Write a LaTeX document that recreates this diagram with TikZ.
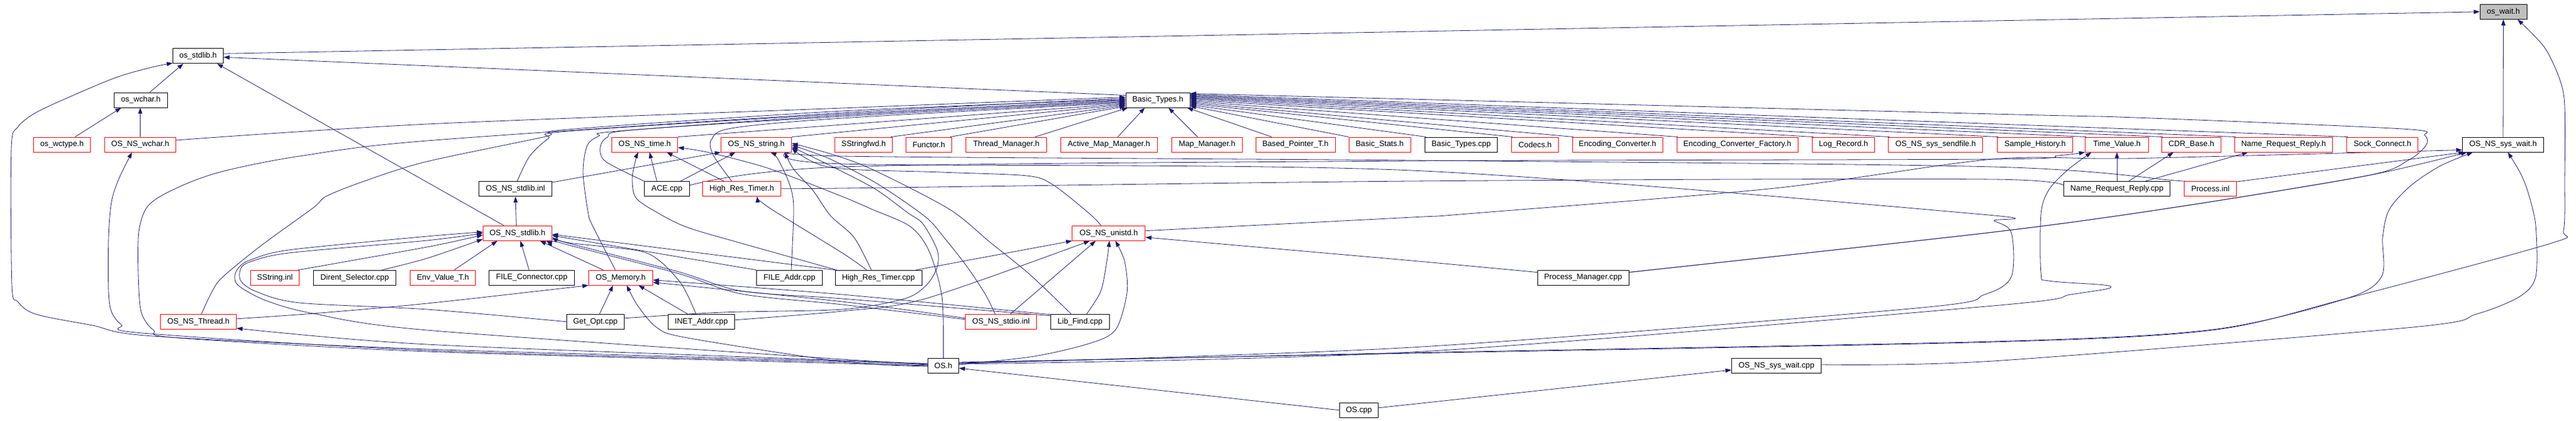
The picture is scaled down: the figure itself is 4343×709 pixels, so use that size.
\documentclass[tikz,border=0pt]{standalone}
\usepackage{fontspec}
\setmainfont{Liberation Sans}
\usetikzlibrary{arrows.meta}
\pgfdeclarelayer{bg}
\pgfsetlayers{bg,main}
\definecolor{edgec}{HTML}{191970}
\newcommand{\dxfont}{\fontsize{13.2pt}{15pt}\selectfont}
\tikzset{
 nd/.style={draw=black, line width=0.9pt, fill=white, minimum height=25pt, inner sep=0pt, font=\dxfont},
 rd/.style={nd, draw=red},
 gd/.style={nd, fill=black!25},
 ln/.style={draw=edgec, line width=0.8pt, -{Triangle[length=10pt,width=7pt]}},
 plainln/.style={draw=edgec, line width=0.8pt},
}
\begin{document}
\begin{tikzpicture}[x=1pt,y=-1pt]
\useasboundingbox (0,0) rectangle (4343,709);
% ---------------- nodes ----------------
\node[gd, minimum width=79] (w0) at (4220.5,19.8) {os\_wait.h};
\node[nd, minimum width=85] (s1) at (334,94.3) {os\_stdlib.h};
\node[nd, minimum width=108] (bt) at (1952,168.5) {Basic\_Types.h};
\node[nd, minimum width=90] (wc) at (237.4,168.5) {os\_wchar.h};
% row 3
\node[rd, minimum width=96] (wct) at (104.5,243.5) {os\_wctype.h};
\node[rd, minimum width=120] (nswc) at (236.5,243.5) {OS\_NS\_wchar.h};
\node[rd, minimum width=111] (nstime) at (1087,243.5) {OS\_NS\_time.h};
\node[rd, minimum width=119] (nsstr) at (1275,243.5) {OS\_NS\_string.h};
\node[rd, minimum width=97] (ssf) at (1456,243.5) {SStringfwd.h};
\node[rd, minimum width=77] (fun) at (1566,243.5) {Functor.h};
\node[rd, minimum width=136] (thm) at (1696.6,243.5) {Thread\_Manager.h};
\node[rd, minimum width=163] (amm) at (1869.5,243.5) {Active\_Map\_Manager.h};
\node[rd, minimum width=119] (mm) at (2035,243.5) {Map\_Manager.h};
\node[rd, minimum width=134] (bpt) at (2184,243.5) {Based\_Pointer\_T.h};
\node[rd, minimum width=104] (bs) at (2326,243.5) {Basic\_Stats.h};
\node[nd, minimum width=122] (btc) at (2463.5,243.5) {Basic\_Types.cpp};
\node[rd, minimum width=79] (cod) at (2588,243.5) {Codecs.h};
\node[rd, minimum width=152] (ec) at (2727,243.5) {Encoding\_Converter.h};
\node[rd, minimum width=204] (ecf) at (2929,243.5) {Encoding\_Converter\_Factory.h};
\node[rd, minimum width=105] (lr) at (3108,243.5) {Log\_Record.h};
\node[rd, minimum width=159] (ssfile) at (3263.4,243.5) {OS\_NS\_sys\_sendfile.h};
\node[rd, minimum width=127] (sh) at (3431,243.5) {Sample\_History.h};
\node[rd, minimum width=107] (tv) at (3569,243.5) {Time\_Value.h};
\node[rd, minimum width=100] (cdr) at (3694.5,243.5) {CDR\_Base.h};
\node[rd, minimum width=165] (nrr) at (3850,243.5) {Name\_Request\_Reply.h};
\node[rd, minimum width=120] (sc) at (4016.8,243.5) {Sock\_Connect.h};
\node[nd, minimum width=137] (nssw) at (4220,243.5) {OS\_NS\_sys\_wait.h};
% row 4
\node[nd, minimum width=123] (nsstdinl) at (869,318) {OS\_NS\_stdlib.inl};
\node[nd, minimum width=76] (ace) at (1124.5,318) {ACE.cpp};
\node[rd, minimum width=132] (hrth) at (1250.5,318) {High\_Res\_Timer.h};
\node[nd, minimum width=179] (nrrc) at (3569,318) {Name\_Request\_Reply.cpp};
\node[rd, minimum width=88] (pinl) at (3726.5,318) {Process.inl};
% row 5
\node[rd, minimum width=116] (nsstd) at (872.4,392.7) {OS\_NS\_stdlib.h};
\node[rd, minimum width=123] (nsun) at (1869.3,392.7) {OS\_NS\_unistd.h};
% row 6
\node[rd, minimum width=82] (ssinl) at (463.5,467.6) {SString.inl};
\node[nd, minimum width=139] (dir) at (598,467.6) {Dirent\_Selector.cpp};
\node[rd, minimum width=110] (env) at (746.8,467.6) {Env\_Value\_T.h};
\node[nd, minimum width=144] (fcon) at (896.5,467.6) {FILE\_Connector.cpp};
\node[rd, minimum width=108] (mem) at (1046.5,467.6) {OS\_Memory.h};
\node[nd, minimum width=111] (faddr) at (1331,467.6) {FILE\_Addr.cpp};
\node[nd, minimum width=146] (hrtc) at (1481,467.6) {High\_Res\_Timer.cpp};
\node[nd, minimum width=154] (pm) at (2669,467.6) {Process\_Manager.cpp};
% row 7
\node[rd, minimum width=128] (thr) at (334.5,541.8) {OS\_NS\_Thread.h};
\node[nd, minimum width=97] (gopt) at (1003.8,541.8) {Get\_Opt.cpp};
\node[nd, minimum width=112] (inet) at (1182.4,541.8) {INET\_Addr.cpp};
\node[rd, minimum width=120] (stdio) at (1687.5,541.8) {OS\_NS\_stdio.inl};
\node[nd, minimum width=99] (lib) at (1821,541.8) {Lib\_Find.cpp};
% row 8, 9
\node[nd, minimum width=52] (os) at (1590.4,616) {OS.h};
\node[nd, minimum width=151] (nsswc) at (2995,616) {OS\_NS\_sys\_wait.cpp};
\node[nd, minimum width=65] (oscpp) at (2291,690.8) {OS.cpp};
% ---------------- edges ----------------
\begin{pgfonlayer}{bg}
\fill[white] (0,0) rectangle (4343,709);
% into os_wait.h
\draw[ln] ([yshift=4pt]s1.east) -- (w0.west);
\draw[ln] (nssw.north) -- (w0.south);
\draw[ln] plot[smooth,tension=.5] coordinates {([yshift=6pt]os.east) (2380,595) (3360,576) (3730,556) (3955,503) (4300,410) (4322,388) (4324,300) (4324,180) (4316,135) (4290,80) ([xshift=24pt]w0.south)};
% into os_stdlib.h
\draw[ln] ([yshift=8pt]bt.west) -- ([yshift=-2pt]s1.east);
\draw[ln] ([xshift=15pt]wc.north) -- ([xshift=-25pt]s1.south);
\draw[ln] plot[smooth,tension=.5] coordinates {([yshift=3pt]os.west) (1420,608) (720,588) (257,566) (156,548) (60,529) (30,508) (20,480) (19,250) (30,214) (60,190) (120,162) (197,130) (257,113) ([yshift=1pt]s1.south west)};
\draw[ln] ([xshift=-23pt]nsstd.north) -- ([xshift=32pt]s1.south);
% into os_wchar.h
\draw[ln] (nswc.north) -- ([xshift=-1pt]wc.south);
\draw[ln] ([xshift=22pt]wct.north) -- ([xshift=-33pt]wc.south);
% OS.h to left-side nodes
\draw[ln] plot[smooth,tension=.5] coordinates {([yshift=1pt]os.west) (1420,610) (720,590) (240,561) (205,547) (188,525) (183,490) (183,400) (188,340) (200,302) ([xshift=-14pt]nswc.south)};
\draw[ln] plot[smooth,tension=.5] coordinates {([yshift=2pt]os.west) (1420,607) (720,580) ([yshift=-11pt]thr.east)};
\draw[ln] plot[smooth,tension=.5] coordinates {([yshift=4pt]os.west) (1420,605) (720,556) (528,528) (448,506) (402,481) (396,463) (405,448) (422,438) (487,421) (720,398) ([yshift=2pt]nsstd.west)};
\draw[ln] plot[smooth,tension=.5] coordinates {([yshift=-1pt]os.west) (1420,609) (1159,569) (1108,552) (1076,516) ([xshift=10pt]mem.south)};
% into Basic_Types.h from the left
\draw[ln] plot[smooth,tension=.5] coordinates {([yshift=7.5pt]nswc.east) (720,209) (1420,182) ([yshift=5pt]bt.west)};
\draw[ln] plot[smooth,tension=.5] coordinates {([yshift=0pt]os.west) (1420,612) (720,592) (300,569) (259,556) (238,525) (233,460) (234,390) (247,350) (275,328) (330,303) (390,285) (505,263) (720,237) (1420,190) ([yshift=3pt]bt.west)};
\draw[ln] plot[smooth,tension=.5] coordinates {([xshift=5pt]thr.north) (358,490) (376,466) (441,413) (528,350) (551,330) (620,303) (720,272) (920,230) (957,218) (1420,187) ([yshift=1pt]bt.west)};
\draw[ln] plot[smooth,tension=.5] coordinates {([xshift=3pt]nsstdinl.north) (893,263) (925,233) (957,221) (1420,192) (bt.west)};
\draw[ln] plot[smooth,tension=.5] coordinates {([xshift=-9pt]mem.north) (998,378) (991,355) (983,290) (990,245) (1010,229) (1040,221) (1420,194) ([yshift=-1.5pt]bt.west)};
\draw[ln] plot[smooth,tension=.5] coordinates {(ace.north west) (1021,272) (1012,248) (1024,231) (1065,219) (1420,196) ([yshift=-3pt]bt.west)};
\draw[ln] plot[smooth,tension=.5] coordinates {([xshift=-17pt]hrth.north) (1203,262) (1199,236) (1233,216) (1420,199) ([yshift=-4.5pt]bt.west)};
\draw[ln] (nstime.north east) -- ([yshift=-6pt]bt.west);
\draw[ln] (nsstr.north east) -- ([yshift=-7.5pt]bt.west);
\draw[ln] ([xshift=-3pt]ssf.north east) -- ([yshift=-9pt]bt.west);
\draw[ln] ([xshift=-3pt]fun.north east) -- ([yshift=-10.5pt]bt.west);
\draw[ln] ([xshift=-20pt]thm.north east) -- ([xshift=4pt]bt.south west);
\draw[ln] ([xshift=15pt]amm.north) -- ([xshift=-22pt]bt.south);
\draw[ln] ([xshift=-16pt]mm.north) -- ([xshift=18pt]bt.south);
\draw[ln] ([xshift=-40pt]bpt.north) -- ([xshift=-5pt]bt.south east);
% into Basic_Types.h from the right
\draw[ln] (bs.north west) -- ([yshift=-10pt]bt.east);
\draw[ln] ([xshift=2pt]btc.north west) -- ([yshift=-8pt]bt.east);
\draw[ln] ([xshift=2pt]cod.north west) -- ([yshift=-6pt]bt.east);
\draw[ln] ([xshift=2pt]ec.north west) -- ([yshift=-4pt]bt.east);
\draw[ln] ([xshift=2pt]ecf.north west) -- ([yshift=-2pt]bt.east);
\draw[ln] ([xshift=2pt]lr.north west) -- (bt.east);
\draw[ln] ([xshift=2pt]ssfile.north west) -- ([yshift=2pt]bt.east);
\draw[ln] ([xshift=2pt]sh.north west) -- ([yshift=3.5pt]bt.east);
\draw[ln] ([xshift=2pt]tv.north west) -- ([yshift=5pt]bt.east);
\draw[ln] ([xshift=2pt]cdr.north west) -- ([yshift=6.5pt]bt.east);
\draw[ln] ([xshift=2pt]nrr.north west) -- ([yshift=8pt]bt.east);
\draw[ln] ([xshift=2pt]sc.north west) -- ([yshift=9.5pt]bt.east);
\draw[ln] plot[smooth,tension=.5] coordinates {([yshift=9pt]pm.east) (3360,391) (3661,350) (3990,296) (4060,270) (4090,245) (4088,228) (4050,217) (3600,198) (3360,192) ([yshift=11pt]bt.east)};
% into OS_NS_string.h
\draw[ln] ([yshift=11pt]nsstdinl.east) -- (nsstr.south west);
\draw[ln] ([xshift=23pt]ace.north) -- ([xshift=-35pt]nsstr.south);
\draw[ln] plot[smooth,tension=.5] coordinates {([xshift=3pt]faddr.north) (1338,350) (1331,310) (1311,267) ([xshift=24pt]nsstr.south)};
\draw[ln] plot[smooth,tension=.5] coordinates {([xshift=-12pt]hrtc.north) (1440,400) (1400,363) (1370,320) (1338,285) ([xshift=48pt]nsstr.south)};
\draw[ln] plot[smooth,tension=.5] coordinates {([yshift=6pt]gopt.east) (1218,526) (1420,521) (1525,503) (1562,480) (1580,450) (1580,421) (1556,377) (1530,358) (1475,318) (1400,279) ([yshift=-4pt]nsstr.east)};
\draw[ln] plot[smooth,tension=.5] coordinates {([xshift=-10pt]stdio.north) (1662,497) (1631,450) (1590,398) (1560,365) (1480,310) (1400,268) ([yshift=-1pt]nsstr.east)};
\draw[ln] plot[smooth,tension=.5] coordinates {([xshift=-15pt]lib.north) (1737,463) (1668,407) (1600,352) (1470,285) (1400,259) ([yshift=2pt]nsstr.east)};
\draw[ln] plot[smooth,tension=.5] coordinates {([xshift=-13pt]nsun.north) (1837,360) (1775,311) (1731,296) (1587,290) (1400,282) ([yshift=-6pt]nsstr.east)};
\draw[ln] plot[smooth,tension=.5] coordinates {(pinl.north west) (3667,304) (3360,281) (2380,270) (1420,263) ([yshift=-8pt]nsstr.east)};
\draw[ln] plot[smooth,tension=.5] coordinates {([yshift=4pt]os.east) (2380,585) (3230,519) (3346,496) (3391,466) (3391,392) (3362,372) (3330,360) (2380,287) (1420,276) ([yshift=-10pt]nsstr.east)};
% into OS_NS_time.h
\draw[ln] ([xshift=-17pt]ace.north) -- ([xshift=8pt]nstime.south);
\draw[ln] ([xshift=-30pt]hrth.north) -- ([xshift=37pt]nstime.south);
\draw[ln] plot[smooth,tension=.5] coordinates {([xshift=3pt]hrtc.north west) (1251,410) (1159,383) (1108,358) (1072,333) (1066,300) (1072,268) ([xshift=-11pt]nstime.south)};
\draw[ln] plot[smooth,tension=.5] coordinates {(os.north) (1588,500) (1566,422) (1534,381) (1469,352) (1420,331) (1297,284) (1196,257) ([yshift=-5pt]nstime.east)};
% into High_Res_Timer.h
\draw[ln] plot[smooth,tension=.5] coordinates {([xshift=-20pt]hrtc.north) (1420,426) (1297,350) ([xshift=26pt]hrth.south)};
\draw[plainln] plot[smooth,tension=.5] coordinates {(nrrc.west) (3360,302) (2380,305) (1420,317) ([yshift=1pt]hrth.east)};
% into OS_NS_stdlib.inl
\draw[ln] ([xshift=-2pt]nsstd.north) -- (nsstdinl.south);
% into OS_NS_stdlib.h
\draw[ln] plot[smooth,tension=.5] coordinates {(gopt.west) (720,521) (505,510) (432,491) (406,473) (406,452) (422,441) (487,426) (720,405) (nsstd.west)};
\draw[ln] plot[smooth,tension=.5] coordinates {([xshift=-2pt]ssinl.north east) (720,416) ([yshift=-3pt]nsstd.west)};
\draw[ln] plot[smooth,tension=.5] coordinates {([xshift=-24pt]dir.north east) (720,435) ([yshift=-10pt]nsstd.west)};
\draw[ln] ([xshift=19pt]env.north) -- ([xshift=-34pt]nsstd.south);
\draw[ln] ([xshift=-4.5pt]fcon.north) -- ([xshift=5pt]nsstd.south);
\draw[ln] ([xshift=-29.5pt]mem.north) -- ([xshift=38pt]nsstd.south);
\draw[ln] (faddr.north west) -- ([yshift=-4pt]nsstd.east);
\draw[ln] (hrtc.north west) -- ([yshift=-2pt]nsstd.east);
\draw[ln] plot[smooth,tension=.5] coordinates {([xshift=-9pt]inet.north) (1150,480) (1113,440) (1075,422) (960,409) ([yshift=-7pt]nsstd.east)};
\draw[ln] plot[smooth,tension=.5] coordinates {([yshift=10pt]lib.west) (1420,503) (1250,490) (1145,458) (960,410) ([yshift=-9pt]nsstd.east)};
\draw[ln] plot[smooth,tension=.5] coordinates {([yshift=4pt]stdio.west) (1420,513) (1250,495) (1145,461) (960,413) ([yshift=-11pt]nsstd.east)};
% into OS_Memory.h
\draw[ln] ([xshift=7pt]gopt.north) -- ([xshift=-13pt]mem.south);
\draw[ln] ([xshift=-23pt]inet.north) -- ([xshift=30pt]mem.south);
\draw[ln] plot[smooth,tension=.5] coordinates {([yshift=5pt]thr.east) (528,528) (720,511) (mem.south west)};
\draw[ln] plot[smooth,tension=.5] coordinates {([yshift=12pt]lib.west) (1420,496) ([yshift=-4pt]mem.east)};
\draw[ln] plot[smooth,tension=.5] coordinates {([yshift=6pt]stdio.west) (1420,508) ([yshift=-8pt]mem.east)};
% into OS_NS_unistd.h
\draw[ln] ([xshift=-10pt]hrtc.north east) -- (nsun.south west);
\draw[ln] plot[smooth,tension=.5] coordinates {([yshift=3pt]inet.east) (1420,524) (1560,503) ([xshift=-32pt]nsun.south)};
\draw[ln] ([xshift=16pt]stdio.north) -- ([xshift=-22pt]nsun.south);
\draw[ln] plot[smooth,tension=.5] coordinates {([xshift=11pt]lib.north) (1856,490) (1866,440) ([xshift=1pt]nsun.south)};
\draw[ln] plot[smooth,tension=.5] coordinates {([yshift=2pt]os.east) (1744,600) (1838,578) (1881,555) (1900,493) (1896,440) ([xshift=11pt]nsun.south)};
\draw[ln] plot[smooth,tension=.5] coordinates {([yshift=9pt]pm.west) (2380,439) ([yshift=-7pt]nsun.east)};
% into OS_NS_sys_wait.h
\draw[ln] plot[smooth,tension=.5] coordinates {([yshift=4pt]nsun.east) (2380,366) (2474,360) (2992,317) (3360,268) (3600,266.7) ([yshift=4pt]nssw.south west)};
\draw[ln] ([yshift=12pt]pinl.east) -- ([xshift=4pt]nssw.south west);
\draw[ln] plot[smooth,tension=.5] coordinates {([yshift=9pt]pm.east) (3360,391) (3661,350) (3990,296) ([xshift=8pt]nssw.south west)};
\draw[ln] plot[smooth,tension=.5] coordinates {([yshift=5pt]os.east) (2380,594) (3360,575) (3730,555) (3955,503) (4015,466) (4017,400) (4028,353) (4064,313) (4113,280) ([xshift=18pt]nssw.south west)};
\draw[ln] plot[smooth,tension=.5] coordinates {([yshift=2pt]nsswc.east) (3360,608) (4068,551) (4175,529) (4247,500) (4275,466) (4275,380) (4263,327) (4250,293) ([xshift=8pt]nssw.south)};
% into Time_Value.h
\draw[ln] (nrrc.north) -- (tv.south);
\draw[ln] plot[smooth,tension=.5] coordinates {([yshift=3pt]os.east) (2380,593) (3360,515) (3491,496) (3554,486) (3548,480) (3454,473) (3441,460) (3441,360) (3454,320) (3485,287) ([xshift=-43pt]tv.south)};
\draw[ln] plot[smooth,tension=.5] coordinates {([yshift=6pt]ace.east) (1420,281) (2380,271) (3360,268) (3470,262) (tv.south west)};
% into CDR_Base.h and Name_Request_Reply.h
\draw[ln] ([xshift=20pt]nrrc.north) -- ([xshift=-30pt]cdr.south);
\draw[ln] ([xshift=48pt]nrrc.north) -- ([xshift=-60pt]nrr.south);
% into OS.h and OS_NS_sys_wait.cpp
\draw[ln] (oscpp.west) -- ([yshift=-4pt]os.east);
\draw[ln] ([yshift=4pt]oscpp.east) -- ([yshift=-7pt]nsswc.west);
\end{pgfonlayer}
\end{tikzpicture}
\end{document}
